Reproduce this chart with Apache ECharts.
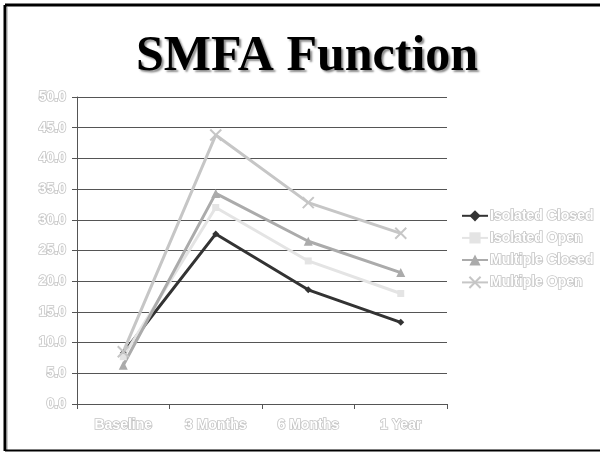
<!DOCTYPE html>
<html>
<head>
<meta charset="utf-8">
<script src="https://cdn.jsdelivr.net/npm/echarts@6/dist/echarts.min.js"></script>
<style>
  html, body { margin: 0; padding: 0; background: #fff; }
  #chart { width: 600px; height: 452px; }
</style>
</head>
<body>
<div id="chart"></div>
<script>
// Time points of the follow-up
const categories = ['Baseline', '3 Months', '6 Months', '1 Year'];

// SMFA function scores per group
const isolatedClosed = [8.3, 27.7, 18.6, 13.3];
const isolatedOpen   = [7.7, 32.0, 23.3, 18.0];
const multipleClosed = [6.3, 34.3, 26.5, 21.4];
const multipleOpen   = [8.5, 43.8, 32.8, 27.8];

const seriesNames = ['Isolated Closed', 'Isolated Open', 'Multiple Closed', 'Multiple Open'];

// Y axis range and step
const yMin = 0, yMax = 50, yStep = 5;

const outlinedText = {
  color: '#ffffff',
  textBorderColor: '#c4c4c4',
  textBorderWidth: 1.6,
  fontFamily: 'Liberation Sans, Arial, sans-serif',
  fontWeight: 'bold',
  fontSize: 14
};

const chart = echarts.init(document.getElementById('chart'), null, { renderer: 'canvas' });

function lineSeries(name, data, color, symbol, size) {
  return {
    name: name,
    type: 'line',
    data: data,
    symbol: symbol,
    symbolSize: size,
    showSymbol: true,
    lineStyle: { color: color, width: 3 },
    itemStyle: { color: color },
    emphasis: { disabled: true }
  };
}

const crossPath = 'path://M0,0 L10,10 M10,0 L0,10';

chart.setOption({
  animation: false,
  backgroundColor: '#ffffff',
  title: {
    text: 'SMFA Function',
    left: 131,
    top: 27,
    textStyle: {
      fontFamily: 'Liberation Serif, Times New Roman, serif',
      fontWeight: 'bold',
      fontSize: 50,
      color: '#000',
      textShadowColor: 'rgba(0,0,0,0.45)',
      textShadowOffsetX: 2,
      textShadowOffsetY: 2,
      textShadowBlur: 2
    }
  },
  grid: { left: 77, top: 97, width: 370, height: 307, containLabel: false },
  legend: {
    orient: 'vertical',
    left: 456,
    top: 203,
    itemGap: 6.5,
    itemWidth: 26,
    itemHeight: 14,
    data: seriesNames,
    textStyle: Object.assign({}, outlinedText, { padding: [0, 0, 0, -3] })
  },
  xAxis: {
    type: 'category',
    data: categories,
    boundaryGap: true,
    axisLine: { lineStyle: { color: '#555', width: 1 } },
    axisTick: { show: true, length: 5, lineStyle: { color: '#555' } },
    axisLabel: Object.assign({}, outlinedText, { margin: 14 }),
    splitLine: { show: false }
  },
  yAxis: {
    type: 'value',
    min: yMin,
    max: yMax,
    interval: yStep,
    axisLine: { show: true, lineStyle: { color: '#555', width: 1 } },
    axisTick: { show: true, length: 5, lineStyle: { color: '#555' } },
    axisLabel: Object.assign({}, outlinedText, {
      margin: 11,
      formatter: v => v.toFixed(1)
    }),
    splitLine: { show: true, lineStyle: { color: '#555', width: 1 } }
  },
  series: [
    lineSeries(seriesNames[0], isolatedClosed, '#333333', 'diamond', 7),
    lineSeries(seriesNames[1], isolatedOpen, '#e4e4e4', 'rect', 7),
    lineSeries(seriesNames[2], multipleClosed, '#ababab', 'triangle', 9),
    Object.assign(lineSeries(seriesNames[3], multipleOpen, '#c6c6c6', crossPath, 11), {
      itemStyle: { color: 'none', borderColor: '#c6c6c6', borderWidth: 2 }
    })
  ],
  graphic: [
    // frame around the slide
    { type: 'line', shape: { x1: 5, y1: 5, x2: 600, y2: 5 }, style: { stroke: '#000', lineWidth: 3 }, silent: true },
    { type: 'line', shape: { x1: 5, y1: 5, x2: 5, y2: 451 }, style: { stroke: '#000', lineWidth: 3 }, silent: true },
    { type: 'line', shape: { x1: 7, y1: 7, x2: 7, y2: 451 }, style: { stroke: '#999', lineWidth: 1 }, silent: true },
    { type: 'line', shape: { x1: 5, y1: 450.5, x2: 600, y2: 450.5 }, style: { stroke: '#000', lineWidth: 2 }, silent: true }
  ]
});
</script>
</body>
</html>
